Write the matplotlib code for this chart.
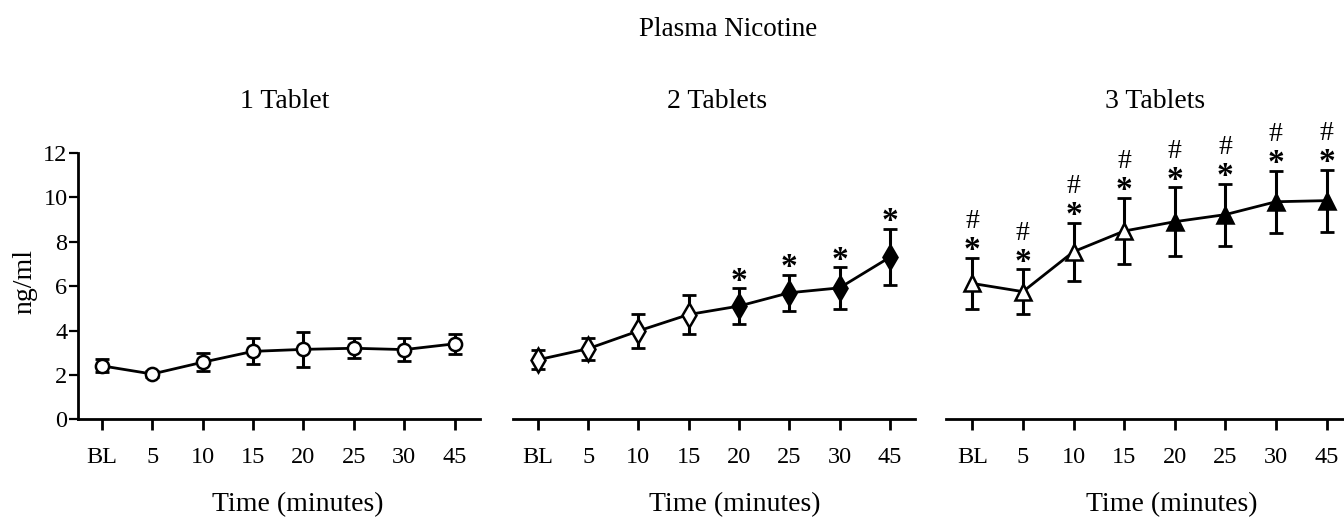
import numpy as np
import matplotlib.pyplot as plt

plt.rcParams['font.family'] = ['Liberation Serif', 'DejaVu Serif']

# time points (categorical)
time_labels = ["BL", "5", "10", "15", "20", "25", "30", "45"]

# 1 tablet
one_mean = [2.41, 2.04, 2.57, 3.06, 3.15, 3.20, 3.14, 3.40]
one_sem = [0.30, 0.15, 0.40, 0.58, 0.80, 0.45, 0.50, 0.45]

# 2 tablets
two_mean = [2.68, 3.18, 3.98, 4.72, 5.10, 5.70, 5.92, 7.30]
two_sem = [0.43, 0.50, 0.78, 0.88, 0.80, 0.82, 0.93, 1.27]
two_star = [False, False, False, False, True, True, True, True]

# 3 tablets
three_mean = [6.12, 5.75, 7.55, 8.48, 8.90, 9.22, 9.80, 9.85]
three_sem = [1.15, 1.00, 1.30, 1.50, 1.55, 1.40, 1.40, 1.40]
three_star = [True] * 8
three_hash = [True] * 8

# open symbols before 20 min, filled after
filled = [False, False, False, False, True, True, True, True]

W, H = 1344, 520
fig = plt.figure(figsize=(W / 100, H / 100), dpi=100)

y0 = 419.3
ppu = 22.2
bottom = (H - y0) / H
height = 12 * ppu / H

panels = [
    # left px, right px, xlim left
    (78, 480, -0.47),
    (512.7, 915, -0.5),
    (946, 1351.8, -0.52),
]

axes = []
for left, right, xl in panels:
    ax = fig.add_axes([left / W, bottom, (right - left) / W, height])
    ax.set_xlim(xl, 7.5)
    ax.set_ylim(0, 12)
    for s in ["top", "right"]:
        ax.spines[s].set_visible(False)
    ax.spines["bottom"].set_linewidth(2)
    ax.spines["left"].set_linewidth(2)
    ax.set_xticks(np.arange(len(time_labels)))
    ax.set_xticklabels(time_labels, fontsize=17.5)
    ax.tick_params(axis="x", direction="out", length=8, width=2, pad=12)
    ax.tick_params(axis="y", direction="out", length=6.5, width=1.6, pad=1, labelsize=17.5)
    axes.append(ax)

ax1, ax2, ax3 = axes
ax1.set_yticks([0, 2, 4, 6, 8, 10, 12])
for ax in (ax2, ax3):
    ax.spines["left"].set_visible(False)
    ax.set_yticks([])

x = np.arange(len(time_labels))


def draw(ax, mean, sem, marker, ms, fill_flags):
    ax.plot(x, mean, color="black", lw=2, zorder=2)
    ax.errorbar(x, mean, yerr=sem, fmt="none", ecolor="black", elinewidth=2.2,
                capsize=5, capthick=2, zorder=3)
    for i in range(len(x)):
        fc = "black" if fill_flags[i] else "white"
        ax.plot(x[i], mean[i], marker=marker, ms=ms, mfc=fc, mec="black",
                mew=1.8, zorder=4, linestyle="none")


def mark(ax, xi, top, star, hsh):
    if star:
        ax.annotate("*", (xi, top), xytext=(0, -6), textcoords="offset points",
                    ha="center", va="bottom", fontsize=24, fontweight="bold",
                    annotation_clip=False)
    if hsh:
        ax.annotate("#", (xi, top), xytext=(0, 17), textcoords="offset points",
                    ha="center", va="bottom", fontsize=20,
                    annotation_clip=False)


draw(ax1, one_mean, one_sem, "o", 9.5, [False] * 8)
draw(ax2, two_mean, two_sem, "d", 12, filled)
draw(ax3, three_mean, three_sem, "^", 11, filled)

# significance marks above the error bars
for i in range(len(x)):
    mark(ax2, x[i], two_mean[i] + two_sem[i], two_star[i], False)
    mark(ax3, x[i], three_mean[i] + three_sem[i], three_star[i], three_hash[i])

# titles and labels
fig.text(728 / W, 1 - 30 / H, "Plasma Nicotine", ha="center", va="center", fontsize=19.5)
for cx, t in [(285, "1 Tablet"), (717, "2 Tablets"), (1155, "3 Tablets")]:
    fig.text(cx / W, 1 - 102 / H, t, ha="center", va="center", fontsize=20)
for cx in (298, 735, 1172):
    fig.text(cx / W, 1 - 505 / H, "Time (minutes)", ha="center", va="center", fontsize=20)
fig.text(25 / W, 1 - 282 / H, "ng/ml", ha="center", va="center", rotation=90, fontsize=20)

fig.savefig("out.png", dpi=100)
